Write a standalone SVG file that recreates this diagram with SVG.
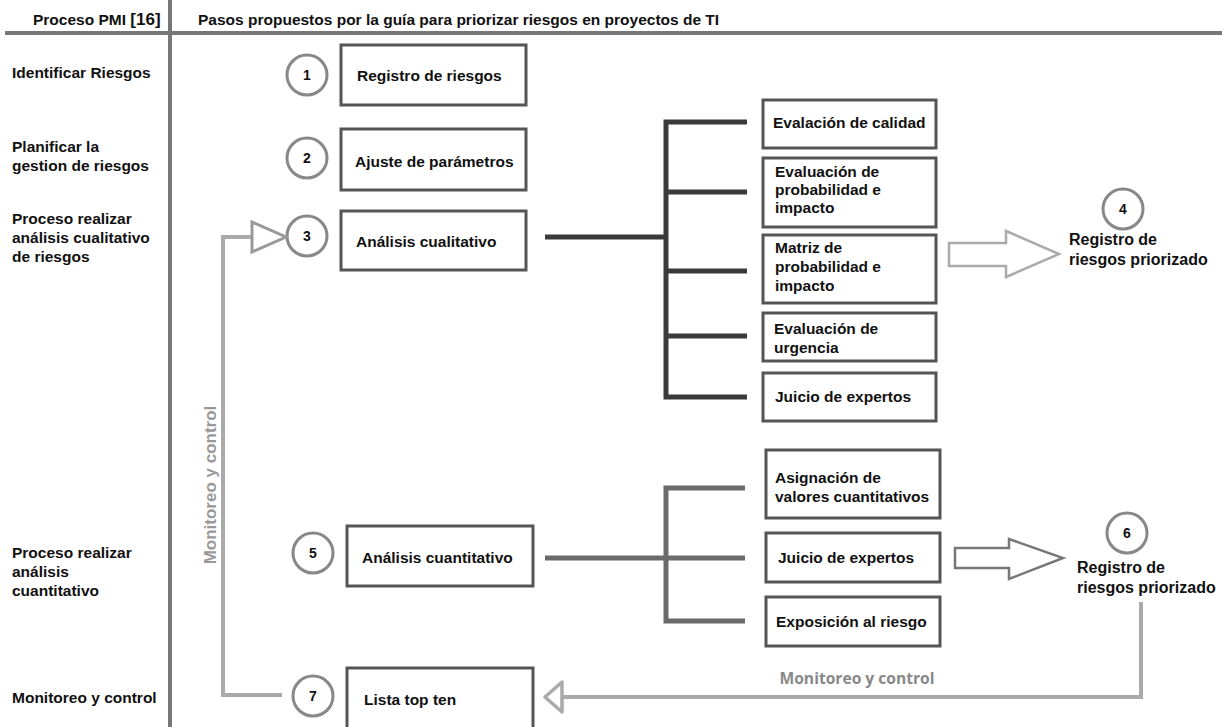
<svg xmlns="http://www.w3.org/2000/svg" width="1222" height="727" viewBox="0 0 1222 727">
<style>
text{font-family:"Liberation Sans",Arial,sans-serif;font-weight:bold;fill:#111}
.h{font-size:15.5px}
.t{font-size:15.5px}
.r{font-size:16px}
.l{font-size:15.5px}
.n{font-size:14px;text-anchor:middle}
.box{fill:#fff;stroke:#555;stroke-width:3}
.circ{fill:#fff;stroke:#888;stroke-width:3}
.g{fill:#999}
</style>
<rect width="1222" height="727" fill="#fff"/>
<g id="frame">
<line x1="170" y1="0" x2="170" y2="727" stroke="#777" stroke-width="4"/>
<line x1="5" y1="33" x2="1222" y2="33" stroke="#777" stroke-width="4"/>
<text class="h" x="33" y="25">Proceso PMI <tspan font-size="17">[16]</tspan></text>
<text class="h" x="198" y="25">Pasos propuestos por la guía para priorizar riesgos en proyectos de TI</text>
</g>
<g id="lanes">
<text class="l" x="12" y="78">Identificar Riesgos</text>
<text class="l" x="12" y="152">Planificar la</text>
<text class="l" x="12" y="171">gestion de riesgos</text>
<text class="l" x="12" y="224">Proceso realizar</text>
<text class="l" x="12" y="243">análisis cualitativo</text>
<text class="l" x="12" y="262">de riesgos</text>
<text class="l" x="12" y="558">Proceso realizar</text>
<text class="l" x="12" y="577">análisis</text>
<text class="l" x="12" y="596">cuantitativo</text>
<text class="l" x="12" y="703">Monitoreo y control</text>
</g>
<g id="n1"><circle class="circ" cx="307" cy="75" r="20"/><text class="n" x="307" y="80">1</text>
<rect class="box" x="341" y="45" width="185" height="60"/><text class="t" x="357" y="81">Registro de riesgos</text></g>
<g id="n2"><circle class="circ" cx="307" cy="158" r="20"/><text class="n" x="307" y="163">2</text>
<rect class="box" x="341" y="129" width="185" height="61"/><text class="t" x="355" y="167">Ajuste de parámetros</text></g>
<g id="n3"><circle class="circ" cx="307" cy="236" r="20"/><text class="n" x="307" y="241">3</text>
<rect class="box" x="341" y="211" width="185" height="59"/><text class="t" x="356" y="247">Análisis cualitativo</text></g>
<g id="q1"><rect class="box" x="763" y="100" width="173" height="48"/><text class="t" x="773" y="128">Evalación de calidad</text></g>
<g id="q2"><rect class="box" x="763" y="158" width="173" height="69"/><text class="t" x="775" y="177">Evaluación de</text><text class="t" x="775" y="195">probabilidad e</text><text class="t" x="775" y="213">impacto</text></g>
<g id="q3"><rect class="box" x="763" y="235" width="173" height="68"/><text class="t" x="775" y="253">Matriz de</text><text class="t" x="775" y="272">probabilidad e</text><text class="t" x="775" y="291">impacto</text></g>
<g id="q4"><rect class="box" x="763" y="313" width="173" height="48"/><text class="t" x="774" y="334">Evaluación de</text><text class="t" x="774" y="353">urgencia</text></g>
<g id="q5"><rect class="box" x="763" y="373" width="173" height="48"/><text class="t" x="775" y="402">Juicio de expertos</text></g>
<g id="n4"><circle class="circ" cx="1123" cy="209" r="20"/><text class="n" x="1123" y="214">4</text>
<text class="r" x="1069" y="245">Registro de</text><text class="r" x="1069" y="265">riesgos priorizado</text></g>
<g id="n5"><circle class="circ" cx="313" cy="553" r="20"/><text class="n" x="313" y="558">5</text>
<rect class="box" x="347" y="526" width="186" height="60"/><text class="t" x="362" y="563">Análisis cuantitativo</text></g>
<g id="c1"><rect class="box" x="766" y="450" width="174" height="68"/><text class="t" x="775" y="483">Asignación de</text><text class="t" x="775" y="502">valores cuantitativos</text></g>
<g id="c2"><rect class="box" x="766" y="533" width="174" height="49"/><text class="t" x="778" y="563">Juicio de expertos</text></g>
<g id="c3"><rect class="box" x="766" y="597" width="174" height="49"/><text class="t" x="776" y="627">Exposición al riesgo</text></g>
<g id="n6"><circle class="circ" cx="1127" cy="533" r="20"/><text class="n" x="1127" y="538">6</text>
<text class="r" x="1077" y="573">Registro de</text><text class="r" x="1077" y="593">riesgos priorizado</text></g>
<g id="n7"><circle class="circ" cx="313" cy="696" r="20"/><text class="n" x="313" y="701">7</text>
<rect class="box" x="347" y="668" width="186" height="70"/><text class="t" x="364" y="705">Lista top ten</text></g>
<g id="connectors">
<polyline points="545,237 666,237" fill="none" stroke="#3a3a3a" stroke-width="5"/>
<polyline points="747,122 666,122 666,397 747,397" fill="none" stroke="#3a3a3a" stroke-width="5"/>
<line x1="666" y1="192" x2="747" y2="192" stroke="#3a3a3a" stroke-width="5"/>
<line x1="666" y1="271" x2="747" y2="271" stroke="#3a3a3a" stroke-width="5"/>
<line x1="666" y1="336" x2="747" y2="336" stroke="#3a3a3a" stroke-width="5"/>
<polyline points="545,558 666,558" fill="none" stroke="#6a6a6a" stroke-width="5"/>
<polyline points="745,488 666,488 666,621 745,621" fill="none" stroke="#6a6a6a" stroke-width="5"/>
<line x1="666" y1="558" x2="745" y2="558" stroke="#6a6a6a" stroke-width="5"/>
<polygon points="949,243 1006,243 1006,231 1059,254 1006,277 1006,266 949,266" fill="#fff" stroke="#aaa" stroke-width="2.5"/>
<polygon points="955,548 1009,548 1009,539 1063,558 1009,579 1009,568 955,568" fill="#fff" stroke="#777" stroke-width="2.5"/>
<polyline points="282,695 223,695 223,237 252,237" fill="none" stroke="#aaa" stroke-width="4"/>
<polygon points="252,222 252,252 286,237" fill="#fff" stroke="#999" stroke-width="3"/>
<polyline points="1141,602 1141,697 562,697" fill="none" stroke="#aaa" stroke-width="4"/>
<polygon points="562,682 562,712 545,697" fill="#fff" stroke="#aaa" stroke-width="3.5" stroke-linejoin="round"/>
<text class="g" font-size="17" transform="translate(216,485) rotate(-90)" text-anchor="middle">Monitoreo y control</text>
<text x="857" y="684" font-size="16" text-anchor="middle" textLength="155" lengthAdjust="spacingAndGlyphs" style="fill:#888;font-family:'Open Sans',sans-serif">Monitoreo y control</text>
</g>
</svg>
